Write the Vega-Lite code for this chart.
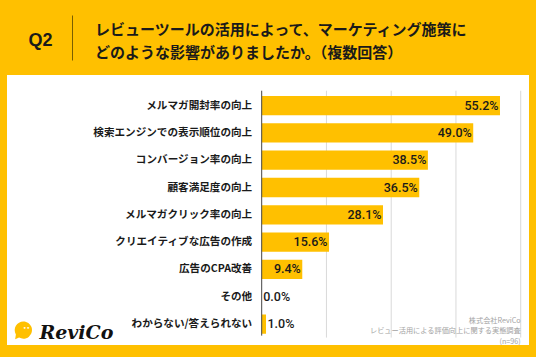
{
  "$schema": "https://vega.github.io/schema/vega-lite/v6.json",
  "width": 522,
  "height": 270,
  "autosize": {"type": "none"},
  "padding": {"left": 7, "top": 75, "right": 7, "bottom": 12},
  "background": "#FFC000",
  "title": {
    "text": ["レビューツールの活用によって、マーケティング施策に", "どのような影響がありましたか。（複数回答）"],
    "anchor": "start",
    "frame": "group",
    "dx": 88,
    "dy": 50,
    "fontSize": 15,
    "font": "Noto Sans CJK JP",
    "fontWeight": "bold",
    "color": "#1a1a1a",
    "lineHeight": 23
  },
  "config": {"view": {"fill": "white", "stroke": null}},
  "datasets": {
    "answers": [
      {"item": "メルマガ開封率の向上", "pct": 55.2},
      {"item": "検索エンジンでの表示順位の向上", "pct": 49.0},
      {"item": "コンバージョン率の向上", "pct": 38.5},
      {"item": "顧客満足度の向上", "pct": 36.5},
      {"item": "メルマガクリック率の向上", "pct": 28.1},
      {"item": "クリエイティブな広告の作成", "pct": 15.6},
      {"item": "広告のCPA改善", "pct": 9.4},
      {"item": "その他", "pct": 0.0},
      {"item": "わからない/答えられない", "pct": 1.0}
    ],
    "grid": [{"v": 15}, {"v": 30}, {"v": 45}, {"v": 60}],
    "zero": [{"v": 0}],
    "logo": [{"brand": "ReviCo", "dots": "••"}],
    "source": [{"src": ["株式会社ReviCo", "レビュー活用による評価向上に関する実態調査", "(n=96)"]}]
  },
  "layer": [
    {
      "data": {"name": "grid"},
      "mark": {"type": "rule", "color": "#d9d9d9", "strokeWidth": 1},
      "encoding": {
        "x": {
          "field": "v",
          "type": "quantitative",
          "scale": {"domain": [-59, 61.92], "nice": false, "zero": false},
          "axis": {
            "orient": "top",
            "values": [-43.9],
            "labels": false,
            "domain": false,
            "grid": false,
            "ticks": true,
            "tickSize": 45,
            "tickColor": "#7a5e00",
            "tickWidth": 1,
            "offset": 15,
            "title": "Q2",
            "titleX": 21,
            "titleY": -15,
            "titleAlign": "left",
            "titleAnchor": null,
            "titleBaseline": "alphabetic",
            "titleFontSize": 18,
            "titleFont": "Liberation Sans",
            "titleFontWeight": "bold",
            "titleColor": "#1a1a1a"
          }
        },
        "y": {
          "datum": "メルマガ開封率の向上",
          "type": "nominal",
          "bandPosition": -0.27,
          "scale": {
            "domain": ["メルマガ開封率の向上", "検索エンジンでの表示順位の向上", "コンバージョン率の向上", "顧客満足度の向上", "メルマガクリック率の向上", "クリエイティブな広告の作成", "広告のCPA改善", "その他", "わからない/答えられない"],
            "paddingInner": 0.293,
            "paddingOuter": 0.59,
            "align": 0.65
          },
          "axis": null
        },
        "y2": {"datum": "わからない/答えられない", "bandPosition": 1.2}
      }
    },
    {
      "data": {"name": "answers"},
      "mark": {"type": "bar", "color": "#FFC000"},
      "encoding": {
        "x": {"field": "pct", "type": "quantitative"},
        "y": {"field": "item", "type": "nominal", "axis": null}
      }
    },
    {
      "data": {"name": "zero"},
      "mark": {"type": "rule", "color": "#444444", "strokeWidth": 1},
      "encoding": {
        "x": {"field": "v", "type": "quantitative"},
        "y": {"datum": "メルマガ開封率の向上", "type": "nominal", "bandPosition": -0.27, "axis": null},
        "y2": {"datum": "わからない/答えられない", "bandPosition": 1.1}
      }
    },
    {
      "data": {"name": "answers"},
      "mark": {"type": "text", "align": "right", "baseline": "middle", "dx": -9.5, "font": "Noto Sans CJK JP", "fontWeight": "bold", "fontSize": 10.6, "color": "#1a1a1a"},
      "encoding": {
        "x": {"datum": 0, "type": "quantitative"},
        "y": {"field": "item", "type": "nominal", "axis": null},
        "text": {"field": "item"}
      }
    },
    {
      "data": {"name": "answers"},
      "transform": [
        {"filter": "datum.pct >= 5"},
        {"calculate": "format(datum.pct, '.1f') + '%'", "as": "lbl"}
      ],
      "mark": {"type": "text", "align": "right", "baseline": "middle", "dx": -1.5, "font": "Roboto", "fontWeight": 500, "fontSize": 12.5, "color": "#1a1a1a"},
      "encoding": {
        "x": {"field": "pct", "type": "quantitative"},
        "y": {"field": "item", "type": "nominal", "axis": null},
        "text": {"field": "lbl"}
      }
    },
    {
      "data": {"name": "answers"},
      "transform": [
        {"filter": "datum.pct < 5"},
        {"calculate": "format(datum.pct, '.1f') + '%'", "as": "lbl"}
      ],
      "mark": {"type": "text", "align": "left", "baseline": "middle", "dx": 1.5, "font": "Roboto", "fontWeight": 500, "fontSize": 12.5, "color": "#1a1a1a"},
      "encoding": {
        "x": {"field": "pct", "type": "quantitative"},
        "y": {"field": "item", "type": "nominal", "axis": null},
        "text": {"field": "lbl"}
      }
    },
    {
      "data": {"name": "logo"},
      "mark": {"type": "point", "filled": true, "opacity": 1, "color": "#FFC000", "size": 300, "shape": "M0,-1A1,1,0,1,1,-0.5,0.87L-0.95,1.05L-0.87,0.5A1,1,0,0,1,0,-1Z"},
      "encoding": {
        "x": {"datum": -55.2, "type": "quantitative"},
        "y": {"datum": "わからない/答えられない", "type": "nominal", "bandPosition": 0.81, "axis": null}
      }
    },
    {
      "data": {"name": "logo"},
      "mark": {"type": "text", "align": "center", "baseline": "middle", "fontSize": 6, "color": "white", "font": "DejaVu Sans"},
      "encoding": {
        "x": {"datum": -54.5, "type": "quantitative"},
        "y": {"datum": "わからない/答えられない", "type": "nominal", "bandPosition": 0.72, "axis": null},
        "text": {"field": "dots"}
      }
    },
    {
      "data": {"name": "logo"},
      "mark": {"type": "text", "align": "left", "baseline": "middle", "fontSize": 19, "fontStyle": "italic", "fontWeight": "bold", "font": "DejaVu Serif", "color": "#111111"},
      "encoding": {
        "x": {"datum": -51.5, "type": "quantitative"},
        "y": {"datum": "わからない/答えられない", "type": "nominal", "bandPosition": 0.96, "axis": null},
        "text": {"field": "brand"}
      }
    },
    {
      "data": {"name": "source"},
      "mark": {"type": "text", "align": "right", "baseline": "top", "fontSize": 7.2, "lineHeight": 10.5, "font": "Noto Sans CJK JP", "color": "#a3a3a3"},
      "encoding": {
        "x": {"datum": 60.0, "type": "quantitative"},
        "y": {"datum": "わからない/答えられない", "type": "nominal", "bandPosition": 0.12, "axis": null},
        "text": {"field": "src"}
      }
    }
  ]
}
